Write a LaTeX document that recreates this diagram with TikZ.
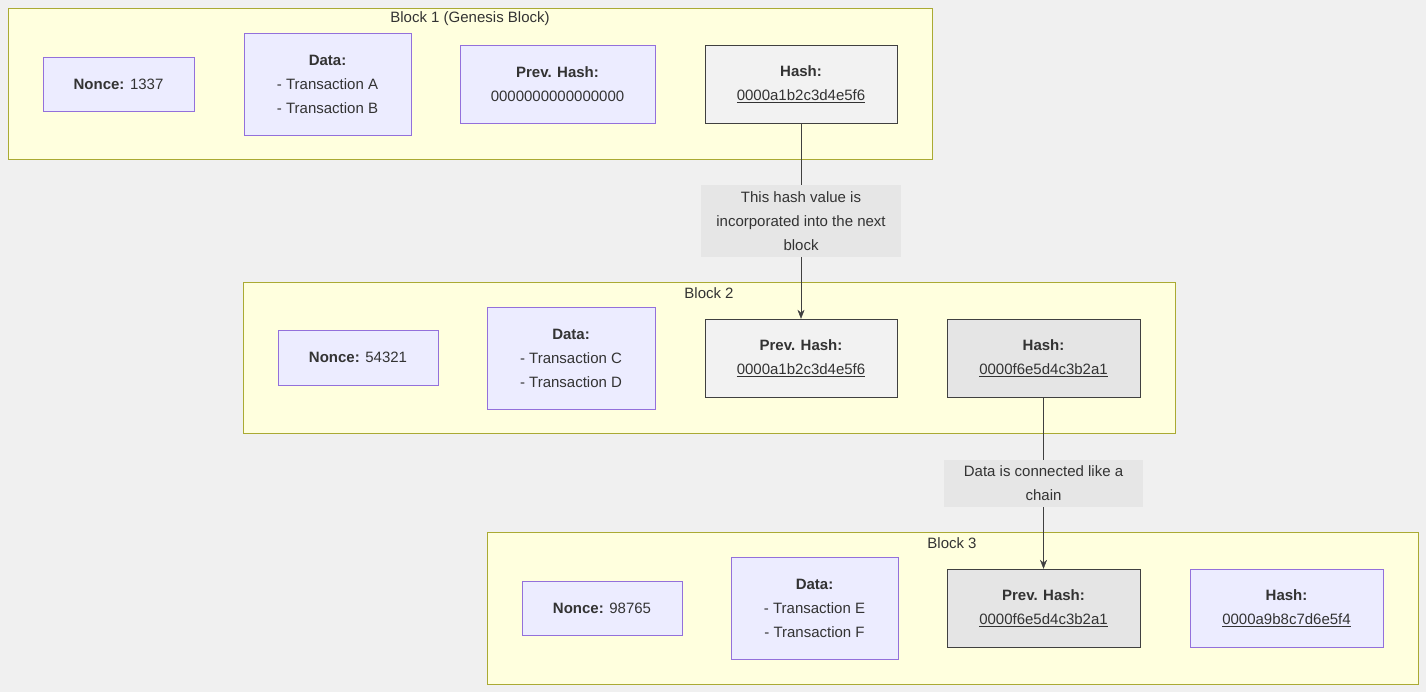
\documentclass[tikz,border=0pt]{standalone}
\usepackage{fontspec}
\setmainfont{Liberation Sans}
\usetikzlibrary{arrows.meta}
\definecolor{bg}{HTML}{F0F0F0}
\definecolor{clfill}{HTML}{FFFFDE}
\definecolor{cldraw}{HTML}{AAAA33}
\definecolor{ndfill}{HTML}{ECECFF}
\definecolor{nddraw}{HTML}{9370DB}
\definecolor{lblfill}{HTML}{E6E6E6}
\tikzset{
  cluster/.style={draw=cldraw, fill=clfill},
  title/.style={text=black!80},
  field/.style={draw=nddraw, fill=ndfill, align=center, inner sep=0pt, text=black!80},
  linked/.style={draw=black!75, fill=black!5, align=center, inner sep=0pt, text=black!80},
  linkeddark/.style={draw=black!75, fill=black!10, align=center, inner sep=0pt, text=black!80},
  edgelbl/.style={fill=lblfill, align=center, inner sep=0pt, text=black!80},
  arrow/.style={draw=black!75, -{Stealth[length=9pt,width=7pt]}}
}
\begin{document}
\begin{tikzpicture}[x=1pt, y=-1pt, font=\fontsize{15}{24}\selectfont]
    \fill[bg] (0,0) rectangle (1426,692);
    \useasboundingbox (0,0) rectangle (1426,692);

    % clusters
    \draw[cluster] (8,8) rectangle (932,159);
    \node (title1) [title] at (470,19) {Block 1 (Genesis Block)};
    \draw[cluster] (243,282) rectangle (1175,433);
    \node (title2) [title] at (709,293) {Block 2};
    \draw[cluster] (487,532) rectangle (1418,684);
    \node (title3) [title] at (952,543) {Block 3};

    % block 1
    \node (nonce1) [field, minimum width=151, minimum height=54] at (118.5,84) {\textbf{Nonce:} 1337};
    \node (data1) [field, minimum width=167, minimum height=102] at (327.5,84) {\textbf{Data:}\\- Transaction A\\- Transaction B};
    \node (prev1) [field, minimum width=195, minimum height=78] at (557.5,84) {\textbf{Prev. Hash:}\\0000000000000000};
    \node (hash1) [linked, minimum width=192, minimum height=78] at (801,84) {\textbf{Hash:}\\\underline{0000a1b2c3d4e5f6}};

    % block 2
    \node (nonce2) [field, minimum width=160, minimum height=55] at (358,357.5) {\textbf{Nonce:} 54321};
    \node (data2) [field, minimum width=168, minimum height=102] at (571,358) {\textbf{Data:}\\- Transaction C\\- Transaction D};
    \node (prev2) [linked, minimum width=192, minimum height=78] at (801,358) {\textbf{Prev. Hash:}\\\underline{0000a1b2c3d4e5f6}};
    \node (hash2) [linkeddark, minimum width=193, minimum height=78] at (1043.5,358) {\textbf{Hash:}\\\underline{0000f6e5d4c3b2a1}};

    % block 3
    \node (nonce3) [field, minimum width=160, minimum height=54] at (602,608) {\textbf{Nonce:} 98765};
    \node (data3) [field, minimum width=167, minimum height=102] at (814.5,608) {\textbf{Data:}\\- Transaction E\\- Transaction F};
    \node (prev3) [linkeddark, minimum width=193, minimum height=78] at (1043.5,608) {\textbf{Prev. Hash:}\\\underline{0000f6e5d4c3b2a1}};
    \node (hash3) [field, minimum width=193, minimum height=78] at (1286.5,608) {\textbf{Hash:}\\\underline{0000a9b8c7d6e5f4}};

    % links
    \draw [arrow] (hash1) -- node[edgelbl, minimum width=200, minimum height=72] {This hash value is\\incorporated into the next\\block} (prev2);
    \draw [arrow] (hash2) -- node[edgelbl, minimum width=199, minimum height=47] {Data is connected like a\\chain} (prev3);
\end{tikzpicture}
\end{document}
